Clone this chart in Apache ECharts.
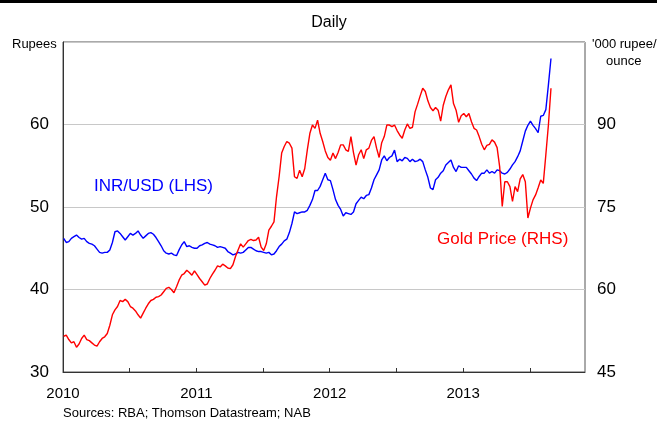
<!DOCTYPE html>
<html>
<head>
<meta charset="utf-8">
<script src="https://cdn.jsdelivr.net/npm/echarts@6/dist/echarts.min.js"></script>
<style>
  html, body { margin: 0; padding: 0; background: #fff; }
  #chart { width: 657px; height: 426px; }
</style>
</head>
<body>
<div id="chart"></div>
<script>
// weekly readings, first week of Jan 2010 to end of Aug 2013
const startYear = 2010.005;
const weekStep = 1 / 52;

// INR per USD (left axis)
const inrUsd = [
  46.2, 45.7, 45.8, 46.2, 46.4, 46.6, 46.3, 46.1, 46.2, 45.8, 45.6, 45.5, 45.3,
  44.9, 44.5, 44.4, 44.5, 44.5, 44.8, 45.7, 47.0, 47.1, 46.8, 46.4, 46.0, 46.4,
  46.8, 46.6, 46.8, 47.1, 46.6, 46.2, 46.5, 46.8, 46.9, 46.7, 46.3, 45.8, 45.3,
  44.7, 44.4, 44.3, 44.4, 44.2, 44.1, 44.8, 45.4, 45.8, 45.2, 45.3, 45.1, 45.0,
  45.0, 45.3, 45.4, 45.6, 45.7, 45.5, 45.4, 45.3, 45.1, 45.2, 45.1, 45.0, 44.6,
  44.4, 44.2, 44.3, 44.5, 44.4, 44.5, 44.8, 45.1, 45.1, 44.9, 44.7, 44.6, 44.6,
  44.5, 44.4, 44.5, 44.2, 44.3, 44.7, 45.2, 45.5, 45.9, 46.1, 46.9, 48.0, 49.4,
  49.2, 49.3, 49.4, 49.4, 49.6, 50.2, 50.9, 52.0, 52.0, 52.5, 53.3, 54.1, 53.3,
  53.2, 52.1, 50.9, 50.2, 49.7, 48.9, 49.3, 49.2, 49.1, 49.4, 50.4, 50.8, 51.2,
  51.0, 51.4, 51.5, 52.3, 53.3, 53.9, 54.5, 55.7, 56.2, 55.6, 56.0, 56.2, 56.9,
  55.5, 55.8, 55.6, 56.0, 55.9, 55.5, 55.8, 55.5, 55.6, 55.8, 55.5, 54.5, 53.6,
  52.3, 52.1, 53.3, 53.6, 54.1, 54.4, 55.1, 55.4, 55.7, 54.8, 54.3, 55.0, 54.8,
  54.8, 54.8, 54.4, 54.0, 53.5, 53.2, 53.7, 54.1, 54.1, 54.5, 54.1, 54.3, 54.1,
  54.5, 54.4, 54.1, 54.0, 54.2, 54.6, 55.1, 55.5, 56.1, 56.8, 58.0, 59.2, 59.9,
  60.4, 59.9, 59.5, 59.0, 61.0, 61.1, 61.8, 64.8, 68.0
];

// gold price, '000 rupee/ounce (right axis)
const goldPrice = [
  51.5, 51.7, 50.9, 50.3, 50.5, 49.5, 50.1, 51.1, 51.7, 50.9, 50.7, 50.3, 49.9,
  49.7, 50.5, 51.1, 51.4, 52.0, 53.5, 55.4, 56.3, 56.9, 58.0, 57.8, 58.2, 57.8,
  56.9, 56.6, 56.1, 55.4, 54.8, 55.7, 56.6, 57.4, 58.0, 58.2, 58.6, 58.7, 59.0,
  59.6, 60.2, 60.4, 60.0, 59.4, 60.5, 61.7, 62.6, 62.9, 63.5, 63.1, 62.6, 63.4,
  62.7, 62.0, 61.4, 60.8, 61.0, 62.0, 62.8, 63.5, 64.3, 64.1, 64.6, 64.3, 63.9,
  63.8, 64.5, 66.0, 67.2, 68.3, 67.7, 68.3, 68.9, 69.1, 68.9, 69.0, 69.5, 67.7,
  67.1, 68.3, 70.8, 71.5, 72.3, 76.9, 80.5, 84.8, 86.0, 86.9, 86.6, 85.7, 80.5,
  80.2, 81.7, 80.5, 82.0, 85.4, 88.4, 89.9, 89.3, 90.8, 88.4, 86.9, 85.2, 84.0,
  83.5, 84.8, 83.8, 84.9, 86.3, 86.3, 85.4, 85.1, 87.8, 84.9, 82.6, 84.5, 85.4,
  83.8, 85.4, 85.7, 87.1, 87.8, 85.7, 84.0, 86.7, 87.8, 89.9, 89.9, 89.6, 89.9,
  88.9, 88.1, 87.5, 89.0, 90.1, 89.3, 89.5, 92.3, 93.7, 95.2, 96.6, 96.0, 94.3,
  93.1, 92.5, 93.1, 92.6, 90.6, 93.5, 95.1, 96.3, 97.2, 93.8, 92.6, 90.4, 91.6,
  92.0, 91.4, 92.0, 90.5, 89.3, 89.0, 87.8, 86.4, 85.4, 86.2, 86.4, 87.2, 86.8,
  85.8, 82.3, 75.1, 79.6, 79.6, 78.7, 76.0, 78.7, 77.8, 80.1, 80.9, 79.6, 73.0,
  74.8, 76.3, 77.2, 78.5, 79.9, 79.3, 84.5, 89.9, 96.6
];

const yearLabels = [2010, 2011, 2012, 2013];

const font = '"Liberation Sans", Arial, sans-serif';

function toPairs(values) {
  return values.map((v, i) => [startYear + i * weekStep, v]);
}

const myChart = echarts.init(document.getElementById('chart'));

const option = {
  backgroundColor: '#fff',
  animation: false,
  title: {
    text: 'Daily',
    left: 324,
    top: 10,
    textAlign: 'center',
    textStyle: { fontFamily: font, fontSize: 16, fontWeight: 'normal', color: '#000' }
  },
  grid: {
    left: 63, right: 72, top: 42, bottom: 54,
    show: true, borderColor: '#555', borderWidth: 1, backgroundColor: 'transparent'
  },
  xAxis: {
    type: 'value',
    min: 2010,
    max: 2013.914,
    interval: 0.5,
    splitLine: { show: false },
    axisLine: { show: true, lineStyle: { color: '#333' } },
    axisTick: { show: true, inside: true, length: 4, lineStyle: { color: '#333' } },
    axisLabel: {
      margin: 14,
      fontFamily: font, fontSize: 15, color: '#000',
      showMaxLabel: false,
      formatter: v => (yearLabels.includes(v) ? String(v) : '')
    }
  },
  yAxis: [
    {
      type: 'value',
      min: 30, max: 70, interval: 10,
      axisLine: { show: true, lineStyle: { color: '#333' } },
      axisTick: { show: false },
      splitLine: { show: true, lineStyle: { color: '#c8c8c8', width: 1 } },
      axisLabel: { margin: 14, fontFamily: font, fontSize: 17, color: '#000', showMaxLabel: false }
    },
    {
      type: 'value',
      min: 45, max: 105, interval: 15,
      position: 'right',
      axisLine: { show: false },
      axisTick: { show: false },
      splitLine: { show: false },
      axisLabel: { margin: 12, fontFamily: font, fontSize: 17, color: '#000', showMaxLabel: false }
    }
  ],
  series: [
    {
      name: 'INR/USD (LHS)',
      type: 'line',
      yAxisIndex: 0,
      data: toPairs(inrUsd),
      showSymbol: false,
      lineStyle: { color: '#0000ff', width: 1.4 },
      itemStyle: { color: '#0000ff' }
    },
    {
      name: 'Gold Price (RHS)',
      type: 'line',
      yAxisIndex: 1,
      data: toPairs(goldPrice),
      showSymbol: false,
      lineStyle: { color: '#ff0000', width: 1.4 },
      itemStyle: { color: '#ff0000' }
    }
  ],
  graphic: [
    { type: 'rect', left: 0, top: 0, shape: { width: 657, height: 3 }, style: { fill: '#000' } },
    {
      type: 'text', left: 12, top: 38,
      style: { text: 'Rupees', font: '13px ' + font, fill: '#000' }
    },
    {
      type: 'text', left: 592, top: 38,
      style: { text: "'000 rupee/", font: '13px ' + font, fill: '#000' }
    },
    {
      type: 'text', left: 606, top: 55,
      style: { text: 'ounce', font: '13px ' + font, fill: '#000' }
    },
    {
      type: 'text', left: 94, top: 178,
      style: { text: 'INR/USD (LHS)', font: '17px ' + font, fill: '#0000ff' }
    },
    {
      type: 'text', left: 437, top: 231,
      style: { text: 'Gold Price (RHS)', font: '17px ' + font, fill: '#ff0000' }
    },
    {
      type: 'text', left: 63, top: 407,
      style: { text: 'Sources: RBA; Thomson Datastream; NAB', font: '13px ' + font, fill: '#000' }
    }
  ]
};

myChart.setOption(option);
</script>
</body>
</html>
